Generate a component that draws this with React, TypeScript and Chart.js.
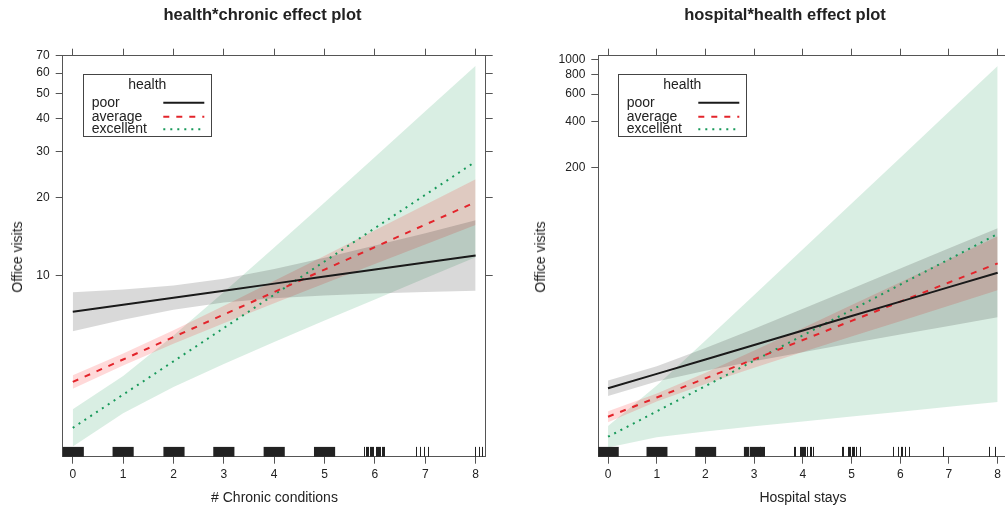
import React, { useEffect, useRef } from "react";
import { Chart, registerables } from "chart.js";
Chart.register(...registerables);

// ---------- data ----------
const xValues = [0, 1, 2, 3, 4, 5, 6, 7, 8];
const xTickValues = [0, 1, 2, 3, 4, 5, 6, 7, 8];
const seriesNames = ["poor", "average", "excellent"];
const legendTitle = "health";

// Panel 1: health*chronic
const chronicYTicks = [10, 20, 30, 40, 50, 60, 70];
const chronicPoorFit = [7.255, 7.719, 8.216, 8.742, 9.305, 9.902, 10.54, 11.21, 11.94];
const chronicPoorLower = [6.105, 6.754, 7.376, 7.864, 8.176, 8.375, 8.523, 8.642, 8.745];
const chronicPoorUpper = [8.624, 8.825, 9.154, 9.723, 10.59, 11.71, 13.03, 14.55, 16.29];
const chronicAverageFit = [3.896, 4.753, 5.799, 7.076, 8.636, 10.54, 12.86, 15.69, 19.14];
const chronicAverageLower = [3.669, 4.508, 5.463, 6.553, 7.818, 9.311, 11.07, 13.16, 15.63];
const chronicAverageUpper = [4.137, 5.012, 6.159, 7.641, 9.535, 11.92, 14.93, 18.7, 23.44];
const chronicExcellentFit = [2.594, 3.483, 4.677, 6.281, 8.433, 11.32, 15.21, 20.42, 27.42];
const chronicExcellentLower = [2.198, 2.951, 3.724, 4.571, 5.546, 6.714, 8.091, 9.75, 11.75];
const chronicExcellentUpper = [3.062, 4.111, 5.875, 8.63, 12.82, 19.1, 28.58, 42.76, 63.97];
const chronicRugBlocks = [[-0.21, 0.22], [0.79, 1.21], [1.8, 2.22], [2.79, 3.21], [3.79, 4.21], [4.79, 5.21]];
const chronicRugTicks = [5.79, 5.82, 5.85, 5.87, 5.9, 5.92, 5.95, 5.97, 6.02, 6.04, 6.06, 6.09, 6.11, 6.14, 6.16, 6.19,
  6.81, 6.89, 6.98, 7.05, 7.99, 8.06, 8.12];

// Panel 2: hospital*health
const hospitalYTicks = [200, 400, 600, 800, 1000];
const hospitalPoorFit = [7.405, 9.19, 11.4, 14.16, 17.57, 21.8, 27.06, 33.58, 41.67];
const hospitalPoorLower = [6.598, 8.19, 9.632, 11.1, 12.7, 14.5, 16.52, 18.82, 21.42];
const hospitalPoorUpper = [8.31, 10.31, 13.51, 18.06, 24.3, 32.8, 44.31, 59.93, 81.05];
const hospitalAverageFit = [4.845, 6.451, 8.594, 11.44, 15.24, 20.29, 27.02, 35.99, 47.92];
const hospitalAverageLower = [4.46, 6.073, 7.909, 10.06, 12.72, 16.04, 20.2, 25.44, 32.03];
const hospitalAverageUpper = [5.264, 6.855, 9.335, 13.01, 18.26, 25.67, 36.14, 50.89, 71.69];
const hospitalExcellentFit = [3.593, 5.248, 7.662, 11.19, 16.34, 23.86, 34.84, 50.88, 74.3];
const hospitalExcellentLower = [3.058, 3.565, 3.884, 4.194, 4.515, 4.86, 5.225, 5.616, 6.038];
const hospitalExcellentUpper = [4.222, 7.723, 15.12, 29.85, 59.11, 117.2, 232.3, 460.9, 913.9];
const hospitalRugBlocks = [[-0.21, 0.22], [0.79, 1.22], [1.79, 2.22], [2.79, 2.9]];
const hospitalRugTicks = [2.92, 2.94, 2.96, 2.98, 3.0, 3.01, 3.03, 3.05, 3.07, 3.09, 3.11, 3.13, 3.15, 3.17, 3.19, 3.21,
  3.82, 3.84, 3.94, 3.97, 3.99, 4.01, 4.03, 4.05, 4.09, 4.14, 4.16, 4.2,
  4.8, 4.83, 4.92, 4.94, 4.97, 5.0, 5.02, 5.05, 5.09, 5.17,
  5.86, 5.96, 6.01, 6.03, 6.1, 6.17, 6.87, 7.82, 7.95];

// ---------- styles ----------
const FONT = '"Liberation Sans", Arial, Helvetica, sans-serif';
const AXIS = "#555";
const TEXT = "#222";
const LINE_COLORS = ["#1a1a1a", "#e3242b", "#17995a"];
const LINE_DASH = [[], [6, 7], [2, 5]];
const BAND_COLORS = ["rgba(0,0,0,0.15)", "rgba(255,0,0,0.15)", "rgba(0,140,70,0.15)"];

const pts = (ys: number[]) => xValues.map((x, i) => ({ x, y: ys[i] }));

const rugPlugin = {
  id: "rug",
  afterDatasetsDraw(chart: any, _a: any, opts: any) {
    const { ctx, chartArea } = chart;
    const xs = chart.scales.x;
    const h = 9.8;
    const b = chartArea.bottom;
    ctx.save();
    ctx.fillStyle = "#222";
    ctx.strokeStyle = "#222";
    ctx.lineWidth = 1;
    (opts.blocks || []).forEach(([a, c]: number[]) => {
      const p1 = Math.max(chartArea.left, xs.getPixelForValue(a));
      const p2 = Math.min(chartArea.right, xs.getPixelForValue(c));
      ctx.fillRect(p1, b - h, p2 - p1, h);
    });
    (opts.ticks || []).forEach((v: number) => {
      const p = Math.round(xs.getPixelForValue(v)) + 0.5;
      ctx.beginPath();
      ctx.moveTo(p, b - h);
      ctx.lineTo(p, b);
      ctx.stroke();
    });
    ctx.restore();
  },
};

const keyPlugin = {
  id: "rkey",
  afterDraw(chart: any, _a: any, opts: any) {
    const { ctx } = chart;
    const x = opts.x, y = opts.y;
    ctx.save();
    ctx.strokeStyle = "#444";
    ctx.lineWidth = 1;
    ctx.strokeRect(Math.round(x) + 0.5, Math.round(y) + 0.5, 128, 62);
    ctx.font = `14px ${FONT}`;
    ctx.fillStyle = TEXT;
    ctx.textBaseline = "middle";
    ctx.textAlign = "center";
    ctx.fillText(legendTitle, x + 64, y + 11.5);
    const rows = [29, 43, 55.6];
    seriesNames.forEach((name, i) => {
      ctx.textAlign = "left";
      ctx.fillStyle = TEXT;
      ctx.fillText(name, x + 8.4, y + rows[i]);
      ctx.beginPath();
      ctx.strokeStyle = LINE_COLORS[i];
      ctx.lineWidth = 2;
      ctx.setLineDash(LINE_DASH[i]);
      ctx.moveTo(x + 80, y + rows[i]);
      ctx.lineTo(x + 121, y + rows[i]);
      ctx.stroke();
      ctx.setLineDash([]);
    });
    ctx.restore();
  },
};

type PanelProps = {
  left: number;
  width: number;
  yMin: number;
  yMax: number;
  yTicks: number[];
  fits: number[][];
  lowers: number[][];
  uppers: number[][];
  rugBlocks: number[][];
  rugTicks: number[];
  areaLeft: number;
  areaRight: number;
  keyX: number;
};

function Panel(p: PanelProps) {
  const ref = useRef<HTMLCanvasElement>(null);
  useEffect(() => {
    const datasets: any[] = [];
    p.fits.forEach((f, i) => {
      datasets.push({
        data: pts(f),
        borderColor: LINE_COLORS[i],
        borderWidth: 2,
        borderDash: LINE_DASH[i],
        pointRadius: 0,
        fill: false,
        order: 0,
        tension: 0,
      });
    });
    p.uppers.forEach((u, i) => {
      datasets.push({
        data: pts(u),
        borderWidth: 0,
        pointRadius: 0,
        backgroundColor: BAND_COLORS[i],
        fill: "+1",
        order: 1,
      });
      datasets.push({
        data: pts(p.lowers[i]),
        borderWidth: 0,
        pointRadius: 0,
        fill: false,
        order: 1,
      });
    });
    const axisCommon = {
      grid: { display: true, drawOnChartArea: false, drawTicks: true, tickLength: 7, tickColor: AXIS, tickWidth: 1 },
      border: { display: true, color: AXIS, width: 1 },
    };
    const xTicksFn = (a: any) => { a.ticks = xTickValues.map((v) => ({ value: v })); };
    const yTicksFn = (a: any) => { a.ticks = p.yTicks.map((v) => ({ value: v })); };
    const chart = new Chart(ref.current!, {
      type: "line",
      data: { datasets },
      plugins: [rugPlugin, keyPlugin],
      options: {
        animation: false,
        responsive: false,
        devicePixelRatio: 1,
        layout: {
          padding: { left: 0, right: p.width - p.areaRight - 7, top: 55.7 - 7, bottom: 508 - 456.7 - 30 },
        },
        plugins: {
          legend: { display: false },
          tooltip: { enabled: false },
          rug: { blocks: p.rugBlocks, ticks: p.rugTicks },
          rkey: { x: p.keyX, y: 73.7 },
        } as any,
        scales: {
          x: {
            type: "linear", position: "bottom", min: -0.2, max: 8.2,
            afterBuildTicks: xTicksFn,
            afterFit: (s: any) => { s.height = 30; },
            ...axisCommon,
            ticks: { font: { size: 12, family: FONT }, color: TEXT, padding: 4, maxRotation: 0, autoSkip: false, callback: (v: any) => String(v) },
          },
          x2: {
            type: "linear", position: "top", min: -0.2, max: 8.2,
            afterBuildTicks: xTicksFn,
            afterFit: (s: any) => { s.height = 7; },
            ...axisCommon,
            ticks: { display: true, callback: () => "", font: { size: 1 } },
          },
          y: {
            type: "logarithmic", position: "left", min: p.yMin, max: p.yMax,
            afterBuildTicks: yTicksFn,
            afterFit: (s: any) => { s.width = p.areaLeft; },
            ...axisCommon,
            ticks: { font: { size: 12, family: FONT }, color: TEXT, padding: 6, autoSkip: false, callback: (v: any) => String(v) },
          },
          y2: {
            type: "logarithmic", position: "right", min: p.yMin, max: p.yMax,
            afterBuildTicks: yTicksFn,
            afterFit: (s: any) => { s.width = 7; },
            ...axisCommon,
            ticks: { display: true, callback: () => "", font: { size: 1 } },
          },
        } as any,
      },
    });
    return () => chart.destroy();
  }, []);
  return (
    <canvas
      ref={ref}
      width={p.width}
      height={508}
      style={{ position: "absolute", left: p.left, top: 0, width: p.width, height: 508 }}
    />
  );
}

function Label(props: { text: string; cx: number; top: number; size: number; bold?: boolean }) {
  return (
    <div
      style={{
        position: "absolute", left: props.cx - 250, width: 500, top: props.top, textAlign: "center",
        fontFamily: FONT, fontSize: props.size, lineHeight: "20px", fontWeight: props.bold ? "bold" : "normal",
        color: TEXT, whiteSpace: "nowrap",
      }}
    >
      {props.text}
    </div>
  );
}

function YLabel(props: { text: string; cx: number; cy: number }) {
  return (
    <div
      style={{
        position: "absolute", left: props.cx, top: props.cy, transform: "translate(-50%,-50%) rotate(-90deg)",
        fontFamily: FONT, fontSize: 14, lineHeight: "16px", color: TEXT, whiteSpace: "nowrap",
      }}
    >
      {props.text}
    </div>
  );
}

export default function App() {
  return (
    <div style={{ position: "fixed", left: 0, top: 0, width: 1005, height: 508, overflow: "hidden", background: "#fff" }}>
      <Panel
        left={0} width={525} yMin={2.01} yMax={70} yTicks={chronicYTicks}
        fits={[chronicPoorFit, chronicAverageFit, chronicExcellentFit]}
        lowers={[chronicPoorLower, chronicAverageLower, chronicExcellentLower]}
        uppers={[chronicPoorUpper, chronicAverageUpper, chronicExcellentUpper]}
        rugBlocks={chronicRugBlocks} rugTicks={chronicRugTicks}
        areaLeft={62.7} areaRight={485.7} keyX={83.3}
      />
      <Panel
        left={525} width={520} yMin={2.666} yMax={1066} yTicks={hospitalYTicks}
        fits={[hospitalPoorFit, hospitalAverageFit, hospitalExcellentFit]}
        lowers={[hospitalPoorLower, hospitalAverageLower, hospitalExcellentLower]}
        uppers={[hospitalPoorUpper, hospitalAverageUpper, hospitalExcellentUpper]}
        rugBlocks={hospitalRugBlocks} rugTicks={hospitalRugTicks}
        areaLeft={73.3} areaRight={482.4} keyX={93.3}
      />
      <Label text="health*chronic effect plot" cx={262.5} top={4} size={16.5} bold />
      <Label text="hospital*health effect plot" cx={785} top={4} size={16.5} bold />
      <Label text="# Chronic conditions" cx={274.5} top={487} size={14} />
      <Label text="Hospital stays" cx={803} top={487} size={14} />
      <YLabel text="Office visits" cx={17} cy={257} />
      <YLabel text="Office visits" cx={540} cy={257} />
    </div>
  );
}
